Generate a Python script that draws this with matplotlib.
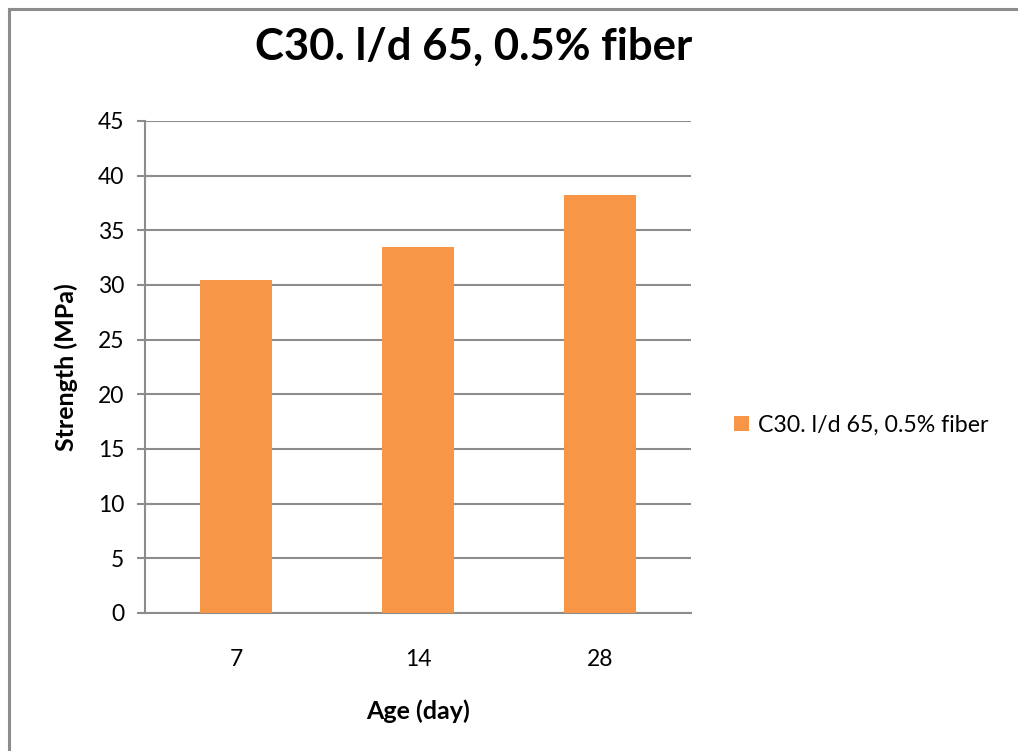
import matplotlib.pyplot as plt
from matplotlib.lines import Line2D

plt.rcParams['font.family'] = ['Lato', 'DejaVu Sans']

ages = ['7', '14', '28']
strength = [30.5, 33.5, 38.2]
series_name = 'C30. l/d 65, 0.5% fiber'
y_ticks = [0, 5, 10, 15, 20, 25, 30, 35, 40, 45]

grey = '#8c8c8c'
orange = '#F79646'

fig = plt.figure(figsize=(10.18, 7.51), dpi=100)
ax = fig.add_axes([0.1424, 0.1838, 0.5364, 0.6551])

x = range(len(ages))
ax.bar(x, strength, width=0.4, color=orange, label=series_name, zorder=3)

ax.set_xlim(-0.5, 2.5)
ax.set_ylim(0, 45)
ax.set_yticks(y_ticks)
ax.set_xticks(list(x))
ax.set_xticklabels(ages)
ax.yaxis.grid(True, color=grey, linewidth=1.5, zorder=0)

for side in ['top', 'right']:
    ax.spines[side].set_visible(False)
ax.spines['left'].set_color(grey)
ax.spines['left'].set_linewidth(1.5)
ax.spines['bottom'].set_color(grey)
ax.spines['bottom'].set_linewidth(1.5)
ax.tick_params(axis='y', length=6, width=1.5, color=grey, labelsize=16.5, pad=9)
ax.tick_params(axis='x', length=0, labelsize=16.5, pad=26)

ax.set_ylabel('Strength (MPa)', fontsize=18, fontweight='bold', labelpad=14)
ax.set_xlabel('Age (day)', fontsize=18, fontweight='bold', labelpad=21)

fig.text(0.465, 0.938, series_name, fontsize=31.5, fontweight='bold',
         ha='center', va='center')

ax.legend(loc='center left', bbox_to_anchor=(1.04, 0.382), frameon=False,
          fontsize=16.7, handlelength=0.65, handleheight=0.65, handletextpad=0.4)

# outer chart border
fig.add_artist(Line2D([0.0085, 0.0085], [0, 0.988], color=grey, linewidth=2.2))
fig.add_artist(Line2D([0.0085, 1], [0.988, 0.988], color=grey, linewidth=2.2))

fig.savefig('out.png', dpi=100)
